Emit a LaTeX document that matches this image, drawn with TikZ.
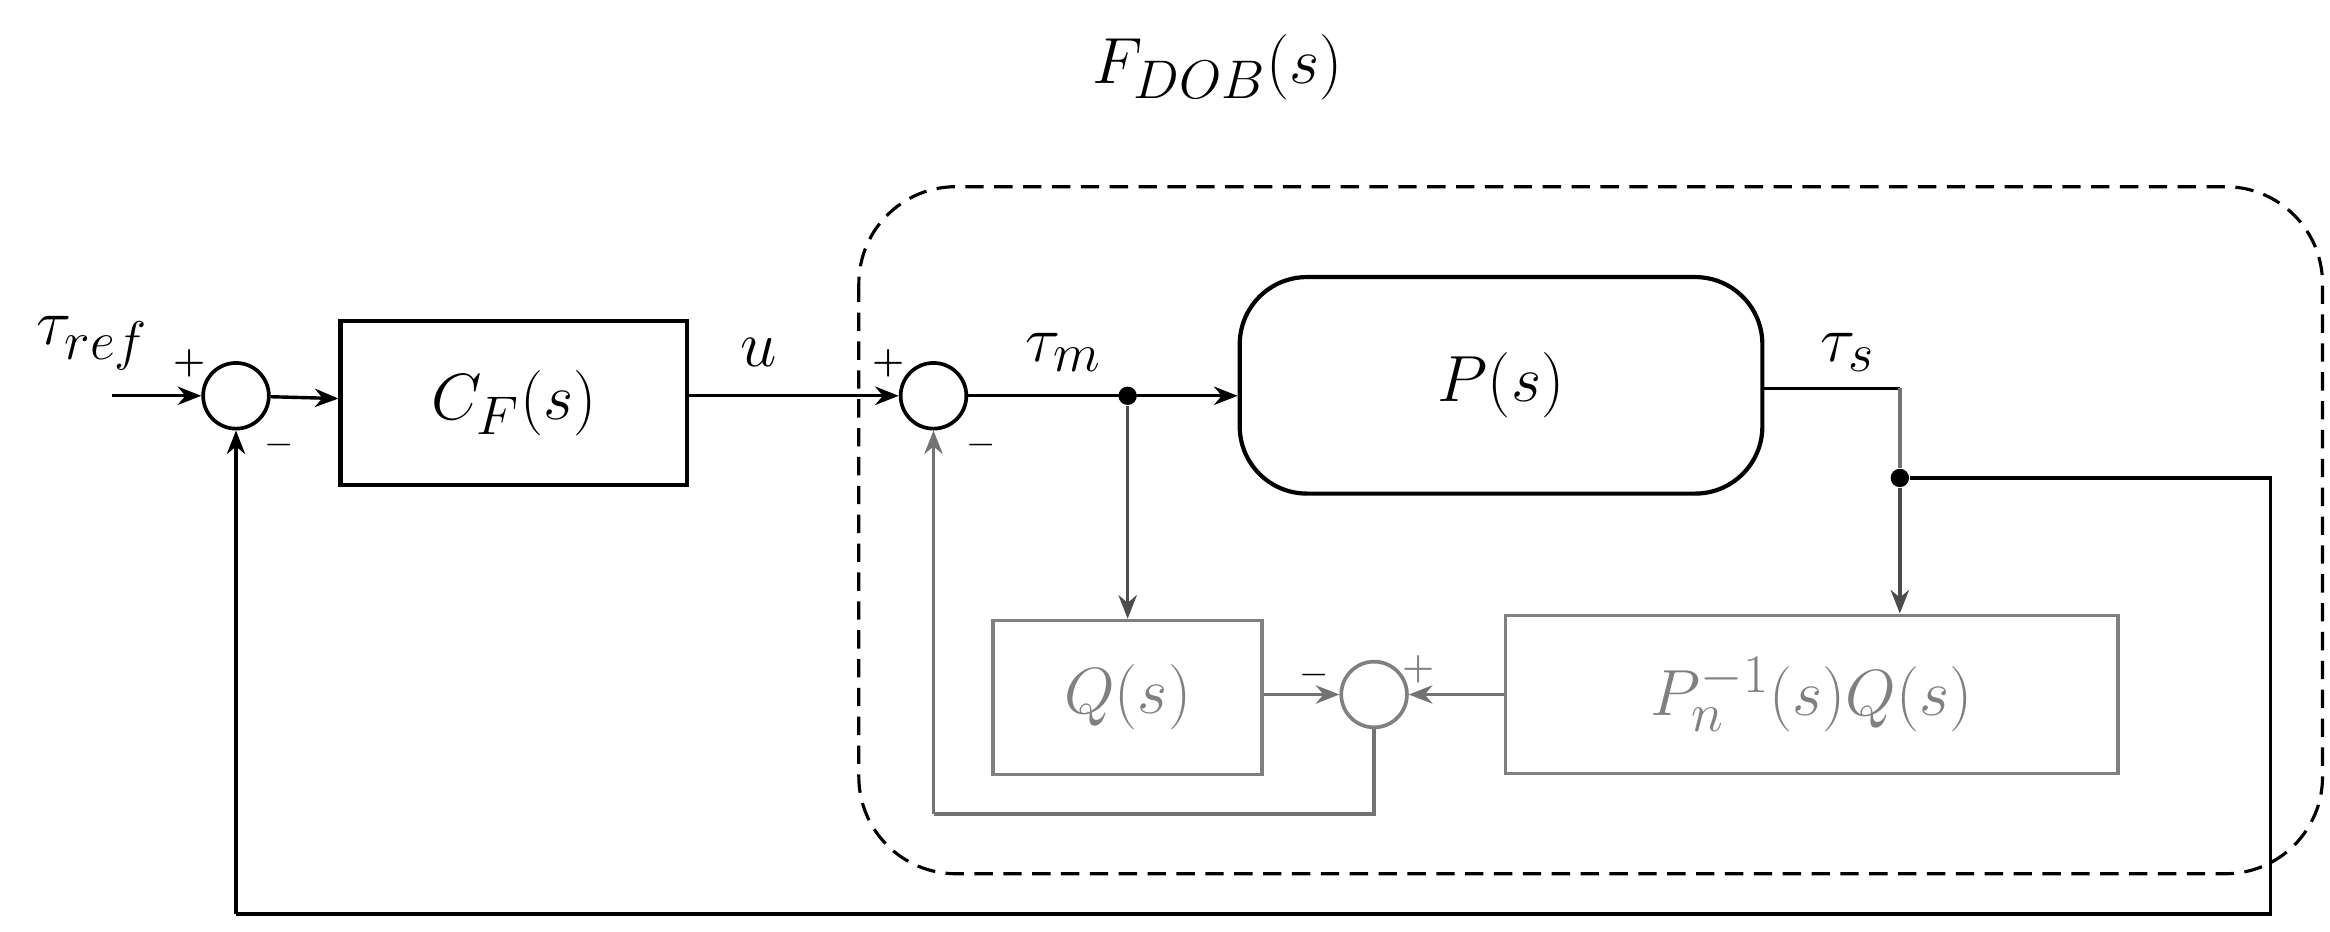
\documentclass[tikz,border=0pt]{standalone}
\usetikzlibrary{arrows.meta}
\begin{document}
\begin{tikzpicture}[x=0.02cm,y=-0.02cm,
  every node/.style={font=\fontsize{31}{36}\selectfont},
  blk/.style={draw,line width=1.6pt,inner sep=0},
  gblk/.style={draw=gray,line width=1.4pt,text=gray,inner sep=0},
  sumb/.style={draw,circle,line width=1.4pt,minimum size=0.88cm,inner sep=0},
  gsum/.style={draw=gray,circle,line width=1.4pt,minimum size=0.88cm,inner sep=0},
  ln/.style={line width=1.3pt},
  gln/.style={line width=1.3pt,draw=gray!90!black},
  arr/.style={-{Stealth[length=9pt,width=7pt]}},
  sg/.style={font=\fontsize{14}{16}\selectfont\bfseries},
  dot/.style={circle,fill,inner sep=0,minimum size=7pt}]
\useasboundingbox (0,0) rectangle (1560,624);
\draw[dash pattern=on 7pt off 4pt,line width=1.2pt,rounded corners=1.3cm] (575,125) rectangle (1555,585);
\node (fdob) at (815,45) {$F_{DOB}(s)$};
\coordinate (in) at (75,265);
\node (tref) at (62,230) {$\tau_{ref}$};
\node[sumb] (s1) at (158,265) {};
\node[blk,minimum width=4.64cm,minimum height=2.2cm] (cf) at (344,270) {$C_F(s)$};
\node[sumb] (s2) at (625,265) {};
\node (u) at (508,236) {$u$};
\node[blk,rounded corners=0.9cm,minimum width=7cm,minimum height=2.9cm] (p) at (1005,258) {$P(s)$};
\node (tm) at (712,236) {$\tau_m$};
\node (ts) at (1237,236) {$\tau_s$};
\node[dot] (d1) at (755,265) {};
\node[dot] (d2) at (1272,320) {};
\node[gblk,minimum width=3.6cm,minimum height=2.06cm] (q) at (755,467) {$Q(s)$};
\node[gblk,minimum width=8.2cm,minimum height=2.12cm] (pn) at (1213,465) {$P_n^{-1}(s)Q(s)$};
\node[gsum] (s3) at (920,465) {};
\node[sg] at (127,243) {+};
\node[sg] at (187,298) {$-$};
\node[sg] at (595,243) {+};
\node[sg] at (657,298) {$-$};
\node[sg] at (880,452) {$-$};
\node[sg,text=gray] at (950,448) {+};
\coordinate (c1) at (1272,260);
\coordinate (c2) at (1520,320);
\coordinate (c3) at (1520,612);
\coordinate (c4) at (158,612);
\coordinate (c5) at (920,545);
\coordinate (c6) at (625,545);
\draw[ln,arr] (in) -- (s1);
\draw[ln,arr] (s1) -- (cf);
\draw[ln,arr] (cf.east |- s2) -- (s2);
\draw[ln,arr] (s2) -- (p.west |- s2);
\draw[ln] (p.east |- c1) -- (c1);
\draw[gln] (c1) -- (d2);
\draw[ln] (d2) -- (c2) -- (c3) -- (c4);
\draw[ln,arr] (c4) -- (s1);
\draw[gln,arr,draw=black!70] (d1) -- (q);
\draw[gln,arr,draw=black!70] (d2) -- (pn.north -| d2);
\draw[gln,arr] (q.east |- s3) -- (s3);
\draw[gln,arr] (pn.west |- s3) -- (s3);
\draw[gln] (s3) -- (c5) -- (c6);
\draw[gln,arr] (c6) -- (s2);
\end{tikzpicture}
\end{document}
